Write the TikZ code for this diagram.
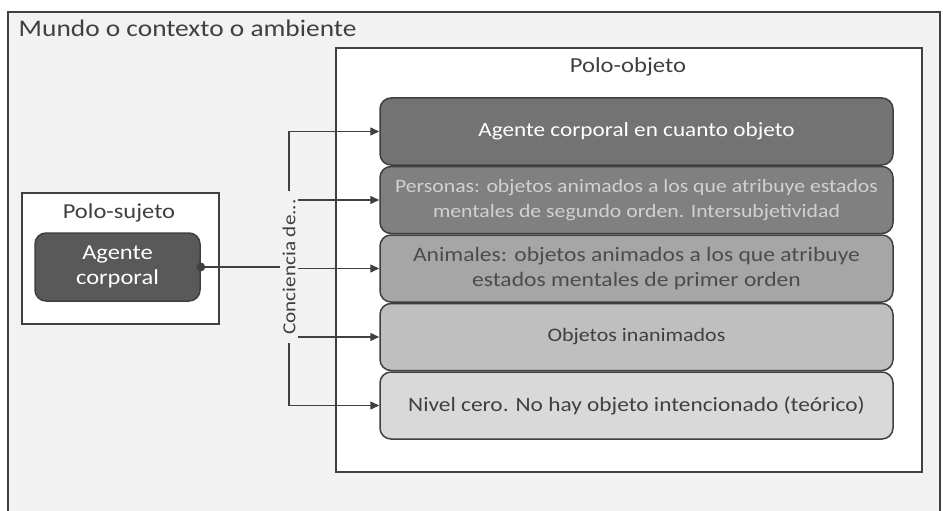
\documentclass[tikz,border=0pt]{standalone}
\usepackage{fontspec}
\setmainfont[FakeStretch=1.15]{Carlito}
\usetikzlibrary{positioning}
\usetikzlibrary{arrows.meta}
\definecolor{linegray}{HTML}{404040}
\definecolor{bggray}{HTML}{F2F2F2}

\begin{document}
\begin{tikzpicture}[x=1pt,y=-1pt,line width=1.5pt,node distance=0pt,
  frame/.style={draw=linegray,rectangle,inner sep=0pt},
  level/.style={draw=linegray,rounded corners=11pt,minimum width=513pt,minimum height=67pt,align=center,inner sep=0pt},
  fs/.style={font=\fontsize{#1}{25}\selectfont},
  >={Triangle[length=9pt,width=8pt]}]
   \clip (0,0) rectangle (943,511);
   % frames
   \node[frame,fill=bggray,minimum width=932pt,minimum height=520pt] (mundo) at (474,272) {};
   \node[anchor=base west,inner sep=0pt,fs=23.8,text=linegray] (mundotit) at (18,37) {Mundo o contexto o ambiente};
   \node[frame,fill=white,minimum width=586pt,minimum height=424pt] (objeto) at (629,260) {};
   \node[anchor=base,inner sep=0pt,fs=21.4,text=linegray] (objetotit) at (628,73) {Polo-objeto};
   \node[frame,fill=white,minimum width=197pt,minimum height=131pt] (sujeto) at (120.5,258.5) {};
   \node[anchor=base,inner sep=0pt,fs=21.3,text=linegray] (sujetotit) at (119,218) {Polo-sujeto};
   \node[draw=linegray,fill=black!65,rounded corners=11pt,minimum width=165pt,minimum height=68pt,align=center,inner sep=0pt,fs=21.3,text=white] (agente) at (117.5,267) {Agente\\corporal};
   % levels
   \node[level,fill=black!55,text=white,fs=20.2] (lvl1) at (636.5,131.5) {Agente corporal en cuanto objeto};
   \node[level,fill=black!50,text=black!18,fs=18.9,below=of lvl1] (lvl2) {Personas: objetos animados a los que atribuye estados\\mentales de segundo orden. Intersubjetividad};
   \node[level,fill=black!35,text=black!70,fs=20.5,below=of lvl2] (lvl3) {Animales: objetos animados a los que atribuye\\estados mentales de primer orden};
   \node[level,fill=black!25,text=black!75,fs=19.1,below=of lvl3] (lvl4) {Objetos inanimados};
   \node[level,fill=black!15,text=black!75,fs=20.3,below=of lvl4] (lvl5) {Nivel cero. No hay objeto intencionado (teórico)};
   % connectors
   \node[rotate=90,inner xsep=8pt,inner ysep=2pt,fs=18.4,text=linegray] (conc) at (289,267) {Conciencia de...};
   \draw[linegray] (agente.east) -- (conc.north);
   \fill[linegray] (agente.east) circle (4.5pt);
   \draw[linegray,->] (conc.east) -- (conc.east |- lvl1.west) -- (lvl1.west);
   \draw[linegray,->] (conc.west) -- (conc.west |- lvl5.west) -- (lvl5.west);
   \draw[linegray,->] (conc.south |- lvl2.west) -- (lvl2.west);
   \draw[linegray,->] (conc.south |- lvl3.west) -- (lvl3.west);
   \draw[linegray,->] (conc.south |- lvl4.west) -- (lvl4.west);
\end{tikzpicture}
\end{document}
